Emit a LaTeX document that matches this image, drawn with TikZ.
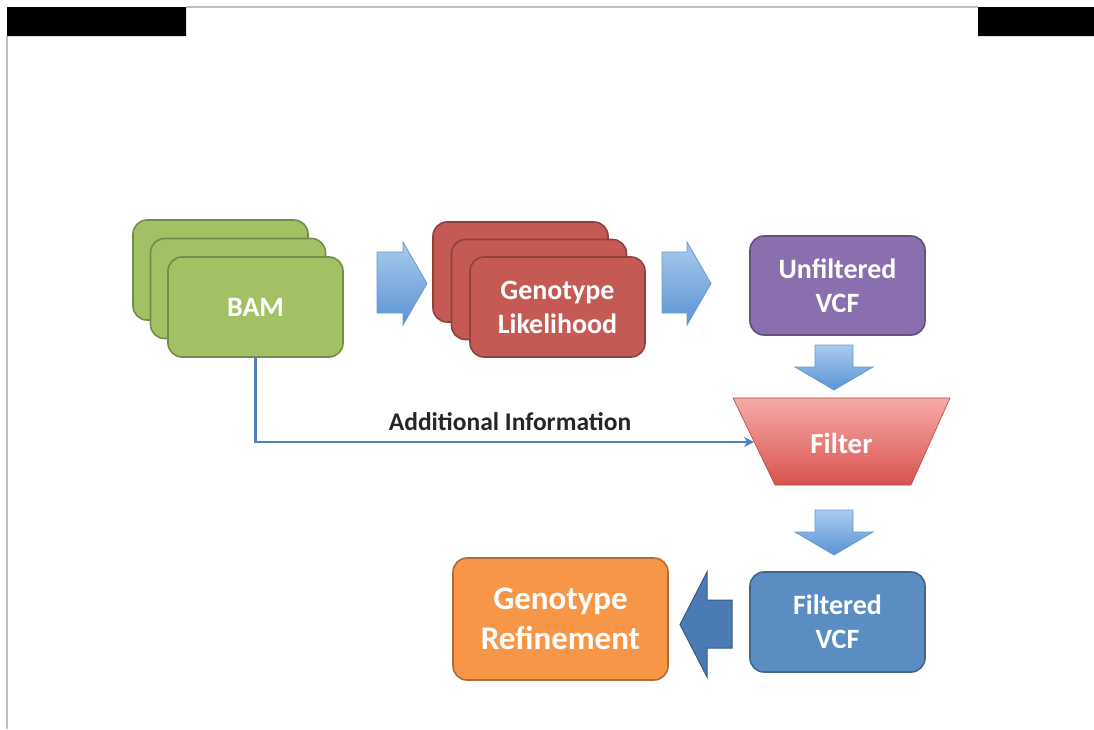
\documentclass[tikz,border=0pt]{standalone}
\usepackage{fontspec}
\setmainfont{Carlito}
\usetikzlibrary{arrows.meta,positioning,calc}
\definecolor{bamgreen}{HTML}{A2C165}
\definecolor{glred}{HTML}{C55A55}
\definecolor{vcfpurple}{HTML}{8A6FAE}
\definecolor{vcfblue}{HTML}{5B8CC2}
\definecolor{refineorange}{HTML}{F79646}
\definecolor{arrowlight}{HTML}{A8CBEE}
\definecolor{arrowdark}{HTML}{5B93D3}
\definecolor{arrowedge}{HTML}{6A9AD0}
\definecolor{linkblue}{HTML}{4F81BD}
\definecolor{filtertop}{HTML}{F6AAA7}
\definecolor{filterbottom}{HTML}{D9534F}

\begin{document}
\begin{tikzpicture}[x=1pt,y=-1pt,
  card/.style={draw=#1!72!black,fill=#1,line width=1.6pt,rounded corners=14pt,
    minimum width=175pt,minimum height=100pt,text=white,align=center,
    font=\fontsize{28}{34}\selectfont\bfseries},
  blockarrow/.style={draw=arrowedge,line width=0.8pt,top color=arrowlight,bottom color=arrowdark},
  infoline/.style={draw=linkblue,line width=2.5pt,-{Stealth[length=10pt,width=10pt]}}]
  \useasboundingbox (0,0) rectangle (1094,729);
  \draw[black!25,line width=1.3pt] (186,7) -- (978,7) (7,36) -- (7,729);
  \fill[black] (7,7) rectangle (186,36) (978,7) rectangle (1094,36);
  \foreach \k in {2,1}{
    \node[card=bamgreen] (bam\k) at (255.5-\k*17.5,307-\k*18.5) {};
    \node[card=glred] (gl\k) at (557.5-\k*18.5,307-\k*17.5) {};
  }
  \node[card=bamgreen] (bam) at (255.5,307) {BAM};
  \node[card=glred] (gl) at (557.5,307) {Genotype\\Likelihood};
  \node[card=vcfpurple,minimum height=99pt] (raw) at (837.5,285.5) {Unfiltered\\VCF};
  \shade[top color=filtertop,bottom color=filterbottom,draw=filterbottom!85!black,line width=0.6pt]
    (733,398) -- (950,398) -- (911,485) -- (775,485) -- cycle;
  \node[text=white,font=\fontsize{29}{34}\selectfont\bfseries] (filter) at (841.5,443) {Filter};
  \coordinate (filterin) at (754,442);
  \node[card=vcfblue] (clean) at (837.5,622) {Filtered\\VCF};
  \node[card=refineorange,minimum width=215pt,minimum height=122pt,
    font=\fontsize{33}{40}\selectfont\bfseries] (refine) at (560.5,619) {Genotype\\Refinement};
  \foreach \x/\b in {377/403,662/687}{
    \shade[blockarrow] (\x,252) -- (\b,252) -- (\b,242) -- (\b+24,283.5) -- (\b,325)
      -- (\b,313) -- (\x,313) -- cycle;
  }
  \foreach \y/\b in {345/367,510/532}{
    \shade[blockarrow] (815,\y) -- (853,\y) -- (853,\b) -- (873,\b) -- (834,\b+23)
      -- (795,\b) -- (815,\b) -- cycle;
  }
  \filldraw[fill=linkblue!95!black,draw=linkblue!70!black,line width=1pt]
    (732,600) -- (707,600) -- (707,572) -- (680,624.5) -- (707,677) -- (707,648)
    -- (732,648) -- cycle;
  \draw[infoline] (bam.south) |- (filterin);
  \node[font=\fontsize{25.5}{30}\selectfont\bfseries,text=black!85] (info) at (510,422) {Additional Information};
\end{tikzpicture}
\end{document}
